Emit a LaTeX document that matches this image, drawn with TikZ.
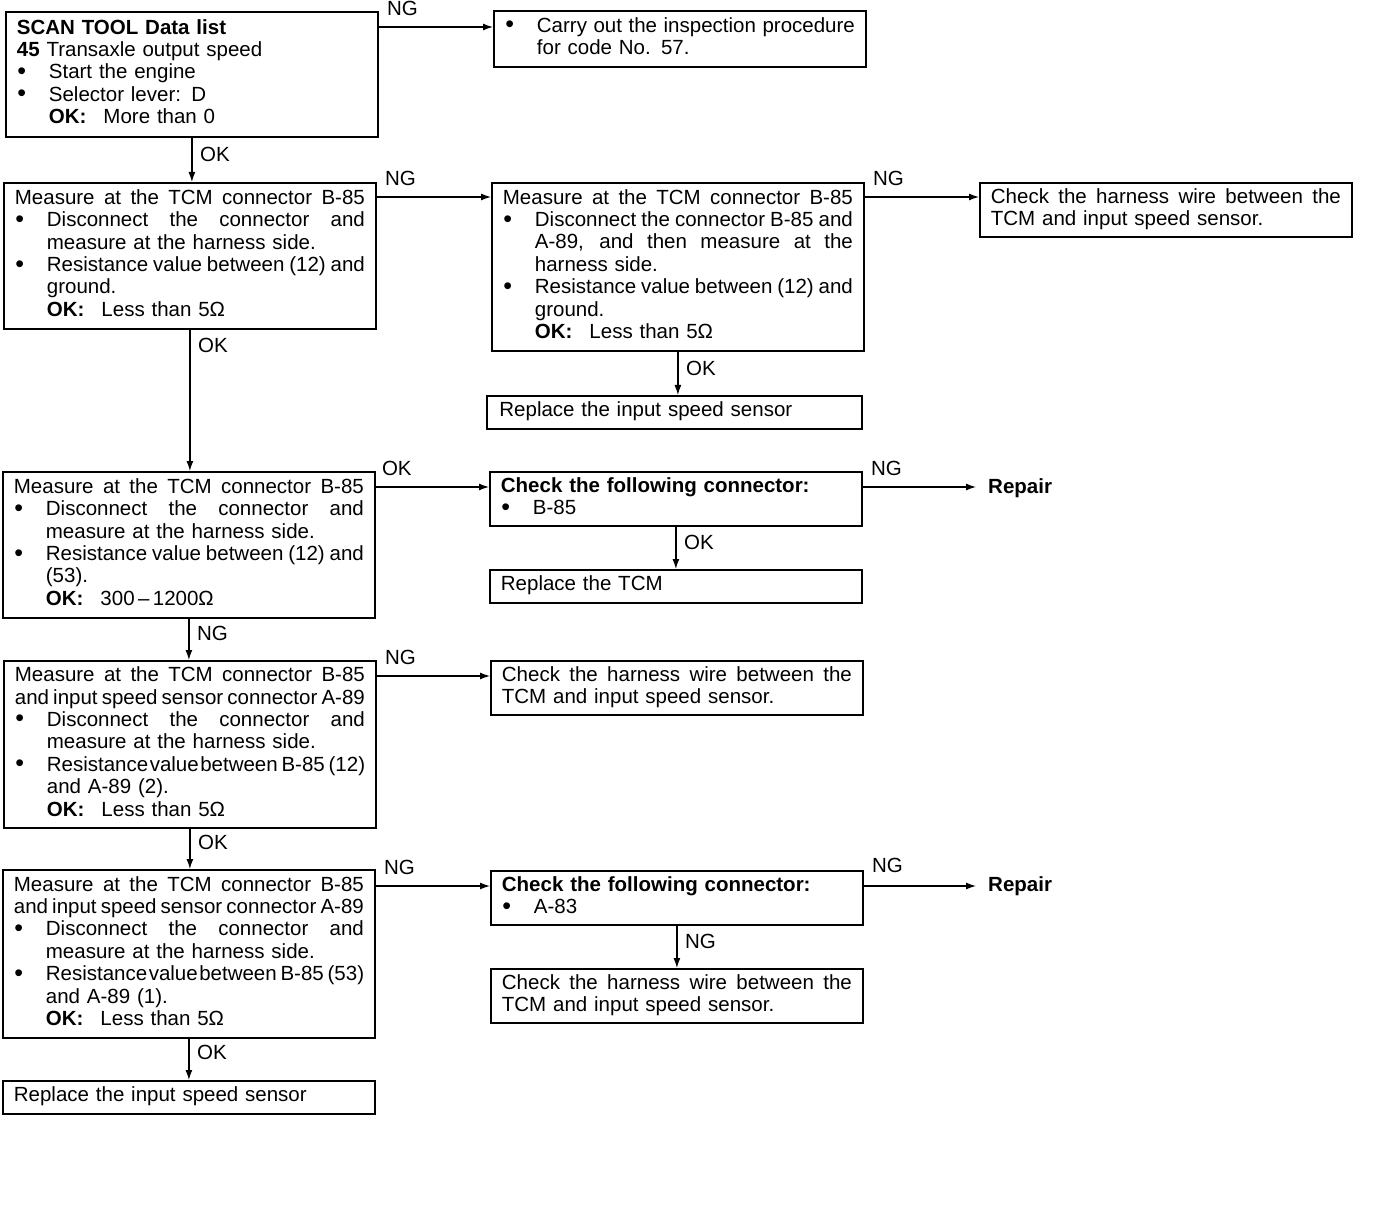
\documentclass[tikz,border=0pt]{standalone}
\usepackage{fontspec}
\setmainfont{Liberation Sans}
\usetikzlibrary{arrows.meta}
\setlength\parindent{0pt}
\newlength\TW \setlength\TW{350pt}
\newlength\BI \setlength\BI{32pt}
\newcommand\Sp{\spaceskip=0pt\xspaceskip=0pt\relax}
\newcommand\Bul{\makebox[\BI][l]{\hspace{0.5pt}\raisebox{-0.5pt}[0pt][0pt]{\fontsize{25}{20}\selectfont\textbullet}}}
\newcommand\Jl[1]{\strut\makebox[\TW][s]{\Sp #1}}
\newcommand\Nl[1]{\strut #1}
\newcommand\Bj[1]{\strut\Bul\makebox[\dimexpr\TW-\BI\relax][s]{\Sp #1}}
\newcommand\Bn[1]{\strut\Bul #1}
\newcommand\Ij[1]{\strut\hspace*{\BI}\makebox[\dimexpr\TW-\BI\relax][s]{\Sp #1}}
\newcommand\In[1]{\strut\hspace*{\BI}#1}
\newcommand\OKt{\textbf{OK:}\hspace{17pt}}
\newcommand\ts{\hspace{1.5pt}}
\begin{document}
\begin{tikzpicture}[x=1pt,y=-1pt,
 box/.style={draw, line width=1.8pt, anchor=north west, inner xsep=11pt, inner ysep=0pt,
   text width=\TW, align=left, font=\fontsize{20.5}{22.4}\selectfont},
 arr/.style={line width=1.3pt, -{Latex[length=10pt,width=7pt]}},
 lab/.style={inner sep=0pt, font=\fontsize{20.5}{22.4}\selectfont}]
\useasboundingbox (0,0) rectangle (1376,1214);
\fill[white] (0,0) rectangle (1376,1214);

% left column
\node[box, minimum height=125pt] (b1) at (5,11) {%
\Nl{\textbf{SCAN TOOL Data list}}\\
\Nl{\textbf{45} Transaxle output speed}\\
\Bn{Start the engine}\\
\Bn{Selector lever: D}\\
\In{\OKt More than 0}};

\node[box, minimum height=146pt] (b2) at (3,182) {%
\Jl{Measure at the TCM connector B-85}\\
\Bj{Disconnect the connector and}\\
\In{measure at the harness side.}\\
\Bj{Resistance value between (12) and}\\
\In{ground.}\\
\In{\OKt Less than 5Ω}};

\node[box, minimum height=146pt] (b4) at (2,471) {%
\Jl{Measure at the TCM connector B-85}\\
\Bj{Disconnect the connector and}\\
\In{measure at the harness side.}\\
\Bj{Resistance value between (12) and}\\
\In{(53).}\\
\In{\OKt 300\,–\,1200Ω}};

\node[box, minimum height=167pt] (b5) at (3,660) {%
\Jl{Measure at the TCM connector B-85}\\
\Jl{and input speed sensor connector A-89}\\
\Bj{Disconnect the connector and}\\
\In{measure at the harness side.}\\
\Bj{Resistance\ts value\ts between B-85 (12)}\\
\In{and A-89 (2).}\\
\In{\OKt Less than 5Ω}};

\node[box, minimum height=168pt] (b6) at (2,869) {%
\Jl{Measure at the TCM connector B-85}\\
\Jl{and input speed sensor connector A-89}\\
\Bj{Disconnect the connector and}\\
\In{measure at the harness side.}\\
\Bj{Resistance\ts value\ts between B-85 (53)}\\
\In{and A-89 (1).}\\
\In{\OKt Less than 5Ω}};

\node[box, minimum height=33pt] (r2) at (2,1080) {\Nl{Replace the input speed sensor}};

% middle column
\node[box, minimum height=56pt] (c1) at (493,10) {%
\Bj{Carry out the inspection procedure}\\
\In{for code No. 57.}};

\node[box, minimum height=168pt] (b3) at (491,182) {%
\Jl{Measure at the TCM connector B-85}\\
\Bj{Disconnect the connector B-85 and}\\
\Ij{A-89, and then measure at the}\\
\In{harness side.}\\
\Bj{Resistance value between (12) and}\\
\In{ground.}\\
\In{\OKt Less than 5Ω}};

\node[box, minimum height=33pt, minimum width=375pt] (r1) at (486,395) {\Nl{Replace the input speed sensor}};

\node[box, minimum height=54pt] (k1) at (489,471) {%
\Nl{\textbf{Check the following connector:}}\\
\Bn{B-85}};

\node[box, minimum height=33pt] (t1) at (489,569) {\Nl{Replace the TCM}};

\node[box, minimum height=54pt] (h2) at (490,660) {%
\Jl{Check the harness wire between the}\\
\Nl{TCM and input speed sensor.}};

\node[box, minimum height=54pt] (k2) at (490,870) {%
\Nl{\textbf{Check the following connector:}}\\
\Bn{A-83}};

\node[box, minimum height=54pt] (h3) at (490,968) {%
\Jl{Check the harness wire between the}\\
\Nl{TCM and input speed sensor.}};

% right column
\node[box, minimum height=54pt] (h1) at (979,182) {%
\Jl{Check the harness wire between the}\\
\Nl{TCM and input speed sensor.}};

\node[lab, anchor=west, inner xsep=12pt, font=\fontsize{20.5}{22.4}\selectfont\bfseries] (rp1) at (976,488) {Repair};
\node[lab, anchor=west, inner xsep=12pt, font=\fontsize{20.5}{22.4}\selectfont\bfseries] (rp2) at (976,886) {Repair};

% horizontal connectors
\coordinate (s1) at ([yshift=-16pt]b1.north east);
\coordinate (s2) at ([yshift=-15pt]b2.north east);
\coordinate (s3) at ([yshift=-15pt]b3.north east);
\coordinate (s4) at ([yshift=-16pt]b4.north east);
\coordinate (s5) at ([yshift=-16pt]k1.north east);
\coordinate (s6) at ([yshift=-16pt]b5.north east);
\coordinate (s7) at ([yshift=-17pt]b6.north east);
\coordinate (s8) at ([yshift=-16pt]k2.north east);

\draw[arr] (s1) -- (s1 -| c1.west);
\draw[arr] (s2) -- (s2 -| b3.west);
\draw[arr] (s3) -- (s3 -| h1.west);
\draw[arr] (s4) -- (s4 -| k1.west);
\draw[arr] (s5) -- (s5 -| rp1.west);
\draw[arr] (s6) -- (s6 -| h2.west);
\draw[arr] (s7) -- (s7 -| k2.west);
\draw[arr] (s8) -- (s8 -| rp2.west);

\node[lab, anchor=base west] at ([xshift=8pt,yshift=11pt]s1) {NG};
\node[lab, anchor=base west] at ([xshift=8pt,yshift=11pt]s2) {NG};
\node[lab, anchor=base west] at ([xshift=8pt,yshift=11pt]s3) {NG};
\node[lab, anchor=base west] at ([xshift=6pt,yshift=12pt]s4) {OK};
\node[lab, anchor=base west] at ([xshift=8pt,yshift=12pt]s5) {NG};
\node[lab, anchor=base west] at ([xshift=8pt,yshift=12pt]s6) {NG};
\node[lab, anchor=base west] at ([xshift=8pt,yshift=12pt]s7) {NG};
\node[lab, anchor=base west] at ([xshift=8pt,yshift=14pt]s8) {NG};

% vertical connectors
\draw[arr] (b1.south) -- (b1.south |- b2.north);
\draw[arr] (b2.south) -- (b2.south |- b4.north);
\draw[arr] (b4.south) -- (b4.south |- b5.north);
\draw[arr] (b5.south) -- (b5.south |- b6.north);
\draw[arr] (b6.south) -- (b6.south |- r2.north);
\draw[arr] (b3.south) -- (b3.south |- r1.north);
\draw[arr] (k1.south) -- (k1.south |- t1.north);
\draw[arr] (k2.south) -- (k2.south |- h3.north);

\node[lab, anchor=base west] at ([xshift=8pt,yshift=-24pt]b1.south) {OK};
\node[lab, anchor=base west] at ([xshift=8pt,yshift=-23pt]b2.south) {OK};
\node[lab, anchor=base west] at ([xshift=8pt,yshift=-22pt]b4.south) {NG};
\node[lab, anchor=base west] at ([xshift=8pt,yshift=-21pt]b5.south) {OK};
\node[lab, anchor=base west] at ([xshift=8pt,yshift=-21pt]b6.south) {OK};
\node[lab, anchor=base west] at ([xshift=8pt,yshift=-24pt]b3.south) {OK};
\node[lab, anchor=base west] at ([xshift=8pt,yshift=-23pt]k1.south) {OK};
\node[lab, anchor=base west] at ([xshift=8pt,yshift=-23pt]k2.south) {NG};
\end{tikzpicture}
\end{document}
